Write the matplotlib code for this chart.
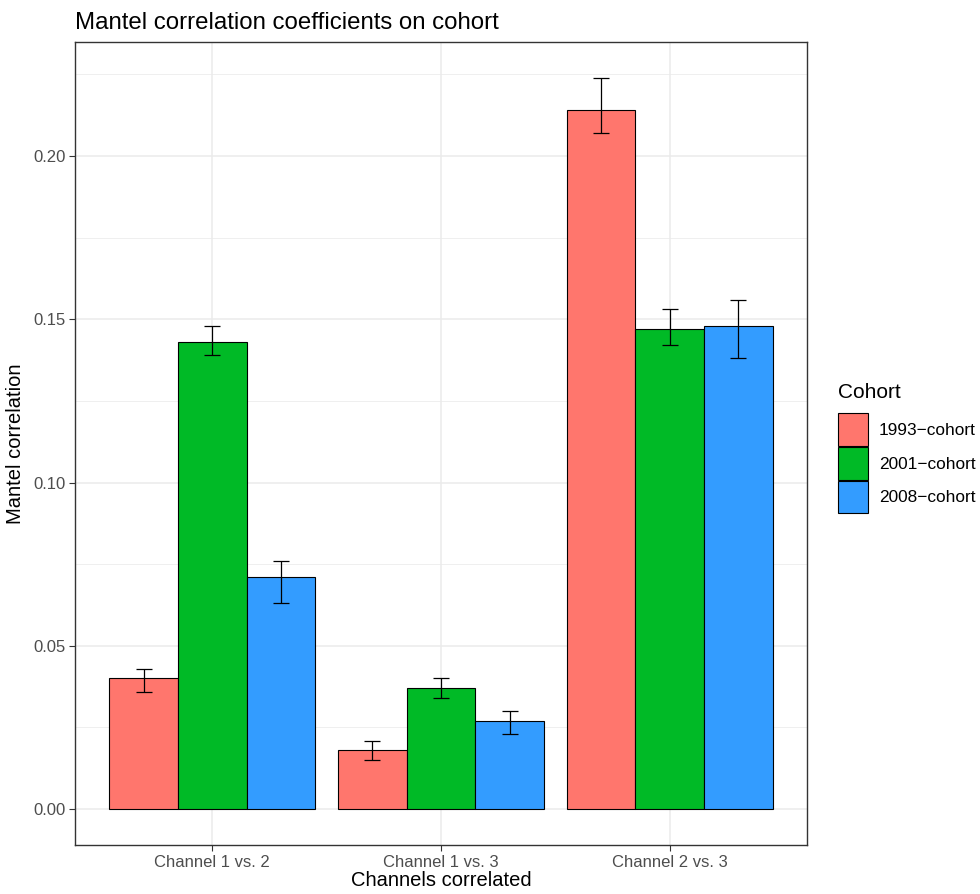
import matplotlib
matplotlib.use("Agg")
import matplotlib.pyplot as plt
import numpy as np
from matplotlib.patches import Patch

plt.rcParams['font.family'] = ['Liberation Sans', 'DejaVu Sans']

categories = ["Channel 1 vs. 2", "Channel 1 vs. 3", "Channel 2 vs. 3"]
cohorts = ["1993\u2212cohort", "2001\u2212cohort", "2008\u2212cohort"]
colors = ["#FF766D", "#00BA26", "#339CFF"]
values = {
    "1993": [0.040, 0.018, 0.214],
    "2001": [0.143, 0.037, 0.147],
    "2008": [0.071, 0.027, 0.148],
}
err_low = {
    "1993": [0.036, 0.015, 0.207],
    "2001": [0.139, 0.034, 0.142],
    "2008": [0.063, 0.023, 0.138],
}
err_high = {
    "1993": [0.043, 0.021, 0.224],
    "2001": [0.148, 0.040, 0.153],
    "2008": [0.076, 0.030, 0.156],
}

fig = plt.figure(figsize=(9.8, 8.94), dpi=100)
ax = fig.add_axes([75/980, 1-845/894, (807-75)/980, (845-42)/894])

x = np.arange(1, len(categories)+1)
bw = 0.3
keys = ["1993", "2001", "2008"]
for i, k in enumerate(keys):
    xs = x + (i-1)*bw
    v = np.array(values[k])
    lo = np.array(err_low[k]); hi = np.array(err_high[k])
    ax.bar(xs, v, width=bw, color=colors[i], edgecolor="black", linewidth=0.8, zorder=2)
    ax.errorbar(xs, (lo+hi)/2, yerr=(hi-lo)/2, fmt='none', ecolor='black',
                elinewidth=0.9, capsize=5.5, capthick=0.9, zorder=3)

ax.set_xlim(0.4, 3.6)
ax.set_ylim(-0.011, 0.2349)
ax.set_xticks(x)
ax.set_xticklabels(categories)
yt = [0.0, 0.05, 0.10, 0.15, 0.20]
ax.set_yticks(yt)
ax.set_yticklabels(["0.00", "0.05", "0.10", "0.15", "0.20"])
ax.set_yticks([0.025, 0.075, 0.125, 0.175, 0.225], minor=True)
ax.grid(True, which='major', color='#EBEBEB', linewidth=1.1, zorder=0)
ax.grid(True, which='minor', axis='y', color='#EBEBEB', linewidth=0.55, zorder=0)
ax.set_axisbelow(True)
ax.tick_params(axis='both', which='major', length=4, width=0.8, color='#333333',
               labelsize=12, labelcolor='#4D4D4D', pad=3)
ax.tick_params(axis='y', which='minor', length=0)
for s in ax.spines.values():
    s.set_color('#333333'); s.set_linewidth(1.0)

ax.set_xlabel("Channels correlated", fontsize=14.5, labelpad=1)
ax.set_ylabel("Mantel correlation", fontsize=14.5, labelpad=6)
ax.set_title("Mantel correlation coefficients on cohort", fontsize=17.3, loc='left',
             x=0.0, pad=9)

handles = [Patch(facecolor=colors[i], edgecolor='black', linewidth=0.8) for i in range(3)]
leg = fig.legend(handles, cohorts, loc='upper left', bbox_to_anchor=(833/980, 1-378/894),
                 frameon=False, fontsize=12.4, title="Cohort", title_fontsize=15,
                 handlelength=1.75, handleheight=2.55, labelspacing=0.05,
                 handletextpad=0.6, borderaxespad=0, borderpad=0.3)
leg._legend_box.align = "left"
leg._legend_box.sep = 8

fig.savefig("out.png", dpi=100)
